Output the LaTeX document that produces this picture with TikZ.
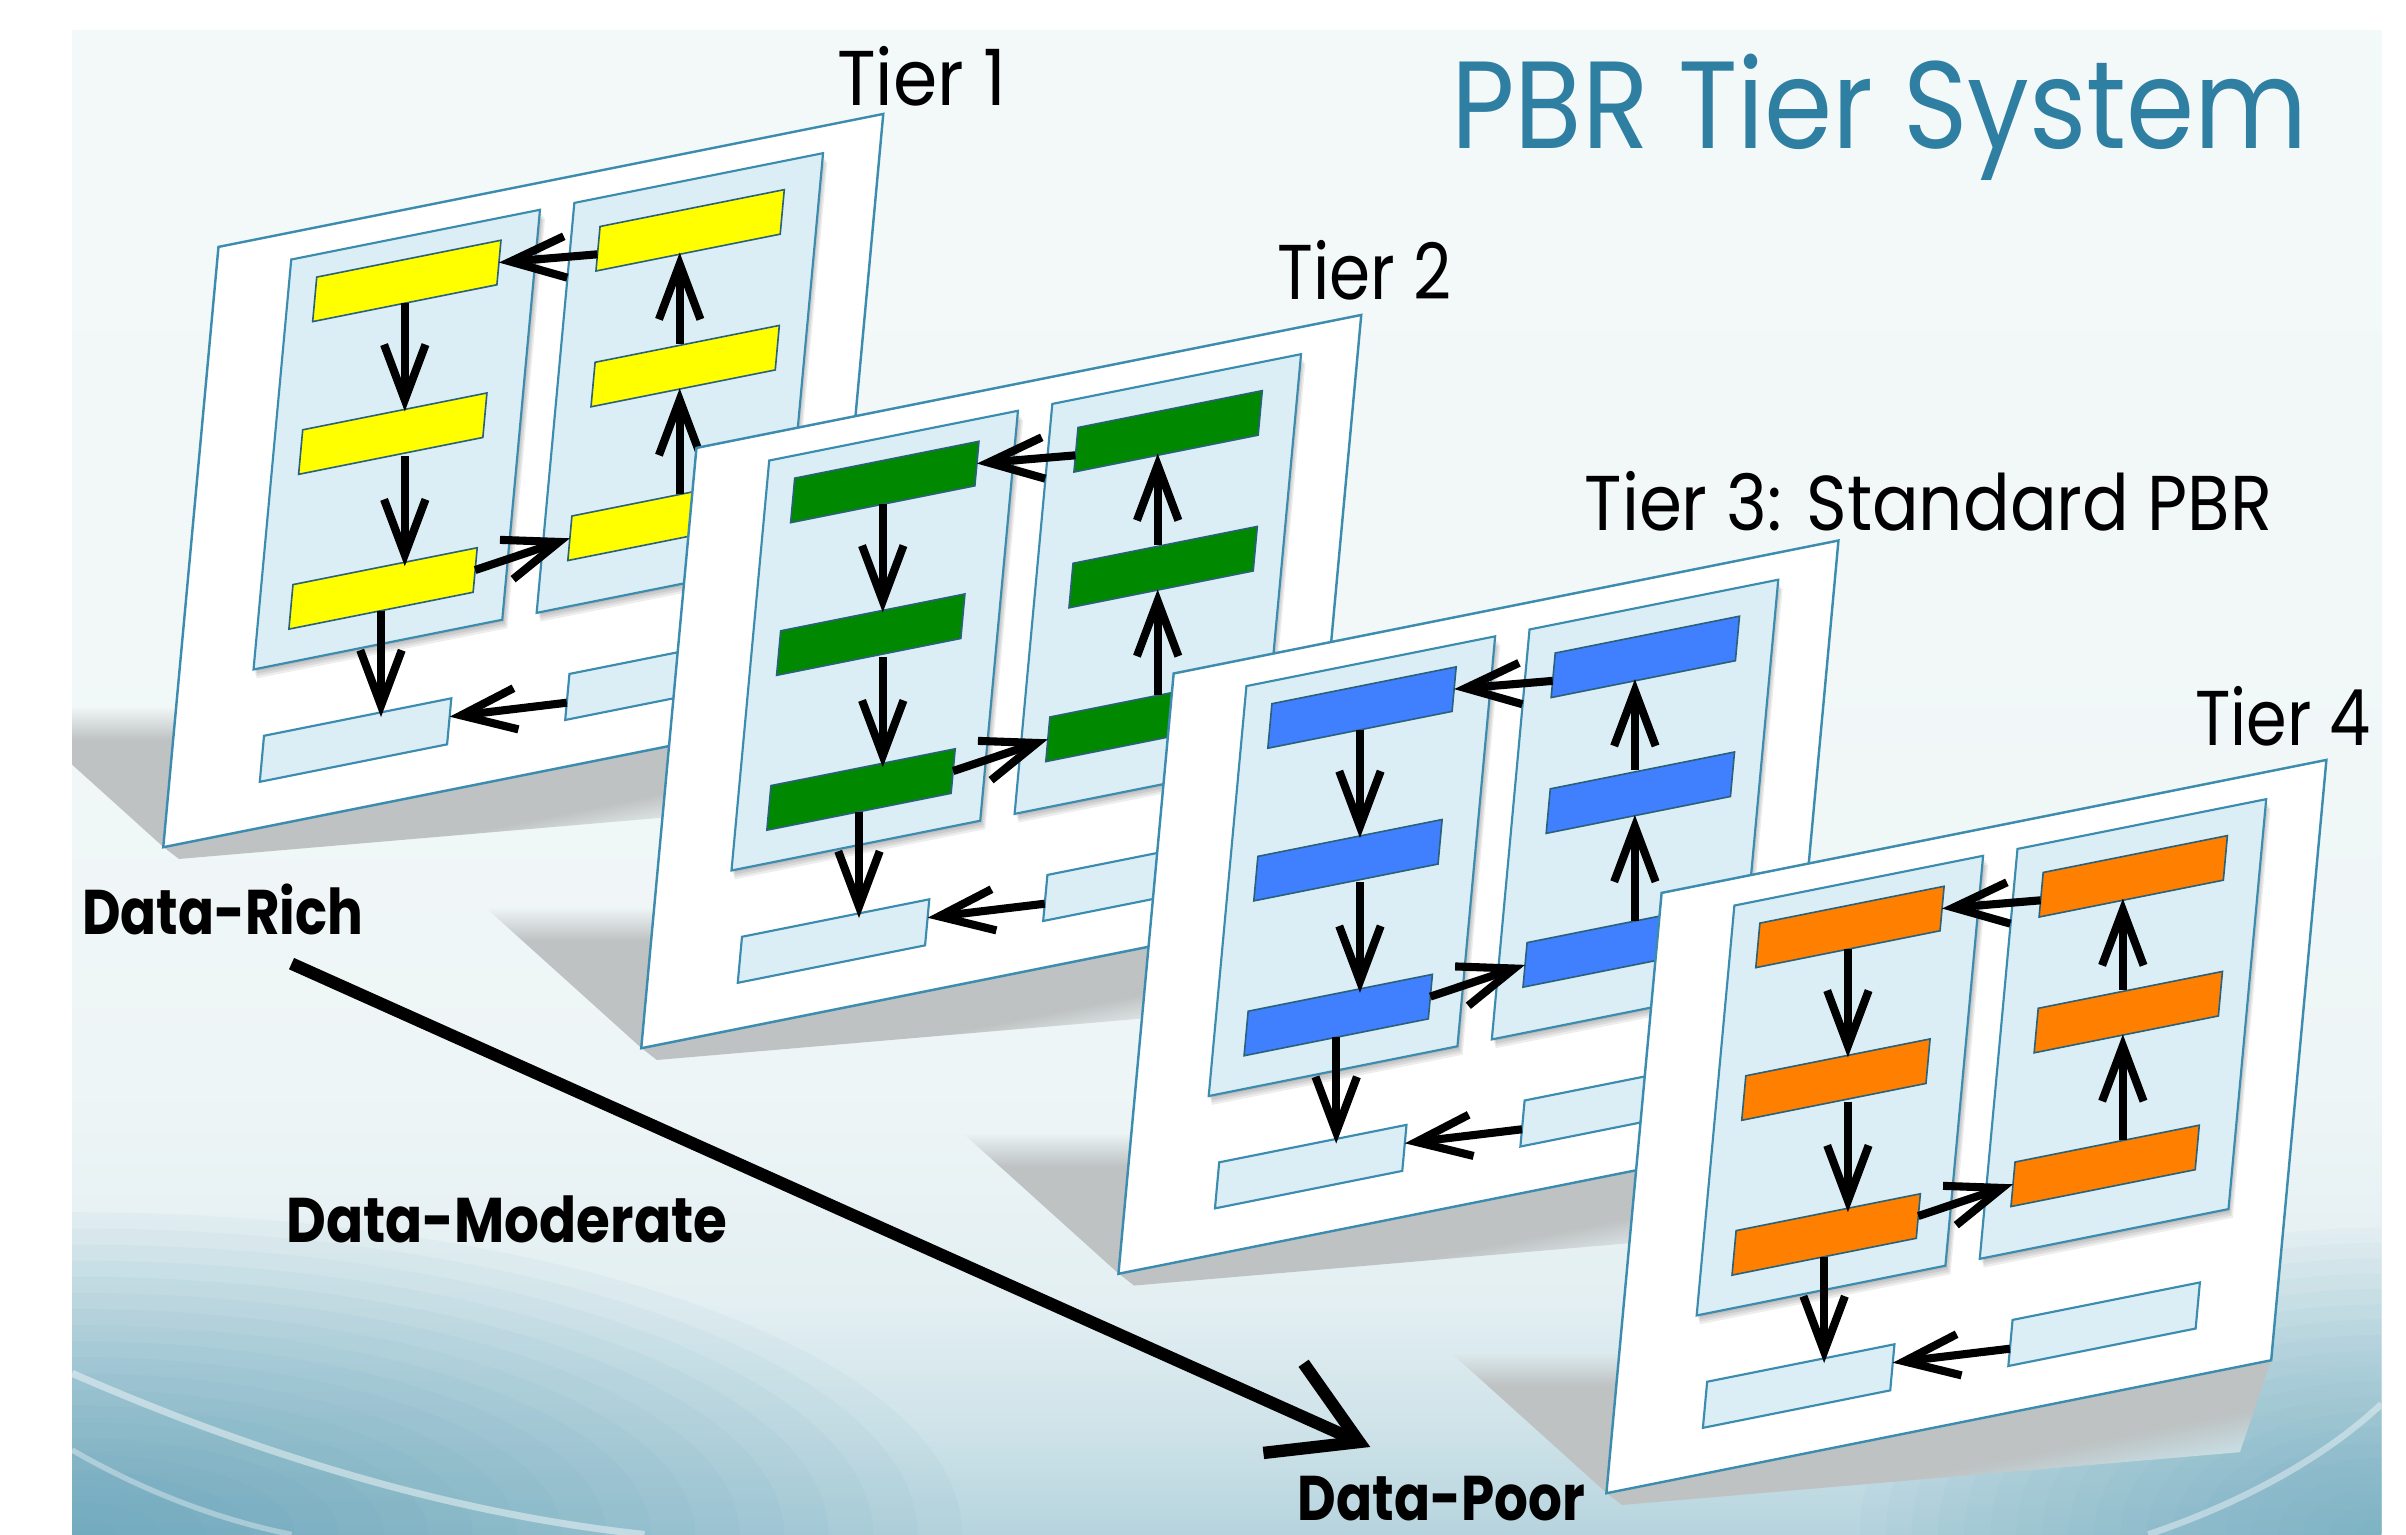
\documentclass[tikz,border=0pt]{standalone}
\usepackage{fontspec}
\setmainfont{Poppins}
\usetikzlibrary{arrows.meta,calc}

\definecolor{edgecol}{HTML}{3C8CAF}
\definecolor{palecol}{HTML}{DCEEF5}
\definecolor{titlecol}{HTML}{2E7FA2}
\definecolor{yellowbar}{HTML}{FFFF00}
\definecolor{greenbar}{HTML}{008800}
\definecolor{bluebar}{HTML}{4080FF}
\definecolor{orangebar}{HTML}{FF7F00}
\definecolor{bg0}{HTML}{B6D4DE}
\definecolor{bg1}{HTML}{CFE3E9}
\definecolor{bg2}{HTML}{E3EFF2}
\definecolor{bg3}{HTML}{EEF5F6}
\definecolor{bg4}{HTML}{F2F8F8}
\definecolor{bg5}{HTML}{F3F8F9}
\definecolor{tintL}{HTML}{589DB5}
\definecolor{tintR}{HTML}{62A5BB}
\definecolor{shgray}{HTML}{BEC2C3}
\definecolor{shlight}{HTML}{F0F6F7}
\definecolor{shA}{HTML}{F2F8F8}
\definecolor{shB}{HTML}{EFF6F7}
\definecolor{shC}{HTML}{ECF4F6}
\definecolor{shD}{HTML}{DCEBEF}
\definecolor{bandA}{HTML}{F0F6F7}
\definecolor{bandB}{HTML}{EEF5F6}
\definecolor{bandC}{HTML}{E6F0F3}
\definecolor{bandD}{HTML}{C8DFE5}
\pgfdeclareverticalshading{bgshade}{100bp}{color(0bp)=(bg0); color(25bp)=(bg0); color(28.6bp)=(bg1); color(32.7bp)=(bg2); color(40bp)=(bg3); color(55bp)=(bg4); color(75bp)=(bg5); color(100bp)=(bg5)}
\pgfdeclareverticalshading[shgray,shlight]{wedgeshade}{100bp}{color(0bp)=(shgray); color(25bp)=(shgray); color(63bp)=(shgray); color(75bp)=(shlight); color(100bp)=(shlight)}
\pgfdeclareverticalshading[shgray,shlight]{bandshade}{100bp}{color(0bp)=(shlight); color(25bp)=(shlight); color(48bp)=(shgray); color(75bp)=(shgray); color(100bp)=(shgray)}

\tikzset{
  panelbox/.style={draw=edgecol, fill=white, line width=0.45pt, minimum width=4.33cm, minimum height=3.91cm, inner sep=0pt, outer sep=0pt},
  colbox/.style={draw=edgecol, fill=palecol, line width=0.4pt, minimum width=1.62cm, minimum height=2.67cm, inner sep=0pt, outer sep=0pt},
  barbox/.style={draw=edgecol!70!black, line width=0.3pt, minimum width=1.2cm, minimum height=0.29cm, inner sep=0pt, outer sep=0pt},
  lowbox/.style={draw=edgecol, fill=palecol, line width=0.4pt, minimum width=1.22cm, minimum height=0.3cm, inner sep=0pt, outer sep=0pt},
  flow/.style={draw=black, line width=1.5pt, -{Straight Barb[length=0.36cm, width=0.27cm]}},
  trend/.style={draw=black, line width=2.3pt, -{Straight Barb[length=0.54cm, width=0.64cm]}},
  tierlabel/.style={anchor=base west, inner sep=0pt, font=\fontsize{14.4}{14.4}\selectfont},
  datalabel/.style={anchor=base west, inner sep=0pt, font=\bfseries\fontsize{11.7}{11.7}\selectfont},
}

% #1,#2 = panel top-left corner; #3 = light colour for the wedge; #4 = light colour for the band
\newcommand{\floorshadow}[4]{%
  \colorlet{shlight}{#3}%
  \shade[shading=wedgeshade] ({#1-36-102},{#2+391-92}) -- ({#1-36},{#2+391}) -- ({#1-6},{#2+385.06})
     -- ({#1-6},{#2+391-92}) -- cycle;
  \colorlet{shlight}{#4}%
  \begin{scope}[transform canvas={cm={1,0.2,0.092,1,(#1,#2)}}]
    \shade[shading=bandshade] (0,391) -- (433,391) -- (418,448) -- (11,401) -- cycle;
  \end{scope}}

\newcommand{\drawtier}[4]{%
  \begin{scope}[cm={1,0.2,0.092,1,(#2,#3)}, every node/.append style={transform shape}]
    \node[panelbox] (#1P) at (216.5,195.5) {};
    \foreach \k in {1,...,4}{
      \fill[black, opacity=0.07] ({49+0.6*\k},{18+1.6*\k}) rectangle ({211+1.0*\k},{285+1.6*\k});
      \fill[black, opacity=0.07] ({234+0.6*\k},{18+1.6*\k}) rectangle ({395+1.0*\k},{285+1.6*\k});
    }
    \node[colbox] (#1LC) at (130,151.5) {};
    \node[colbox] (#1RC) at (314.5,151.5) {};
    \node[barbox, fill=#4] (#1L1) at (127,47.5) {};
    \node[barbox, fill=#4] (#1L2) at (127,147) {};
    \node[barbox, fill=#4] (#1L3) at (130,248.5) {};
    \node[barbox, fill=#4] (#1R1) at (312,51.5) {};
    \node[barbox, fill=#4] (#1R2) at (317,141) {};
    \node[barbox, fill=#4] (#1R3) at (311,240) {};
    \node[lowbox] (#1B1) at (121,345.5) {};
    \node[lowbox] (#1B2) at (320,345) {};
  \end{scope}
  \draw[flow] (#1L1.south) -- (#1L1.south |- #1L2.north);
  \draw[flow] (#1L1.south |- #1L2.south) -- (#1L1.south |- #1L3.north);
  \draw[flow] (#1L3.south) -- (#1L3.south |- #1B1.north);
  \draw[flow] (#1L3.east) -- (#1R3.west);
  \draw[flow] ($(#1R3.north)!0.17!(#1R3.north east)$) coordinate (#1up) -- (#1up |- #1R2.south);
  \draw[flow] (#1up |- #1R2.north) -- (#1up |- #1R1.south);
  \draw[flow] ($(#1R1.west)!0.25!(#1R1.south west)$) -- (#1L1.east);
  \draw[flow] ($(#1B2.west)!0.25!(#1B2.south west)$) -- ($(#1B1.east)!0.2!(#1B1.north east)$);
}

\begin{document}
\begin{tikzpicture}[x=0.01cm, y=-0.01cm]
\useasboundingbox (0,0) rectangle (1568,1000);
\fill[white] (0,0) rectangle (1568,1000);
\shade[shading=bgshade] (47,20) rectangle (1552,1000);
\begin{scope}
  \clip (47,20) rectangle (1552,1000);
  \foreach \k in {1,...,20}{
    \fill[tintL, opacity=0.05] (47,1000) ellipse [x radius={580*\k/20}, y radius={210*\k/20}];
    \fill[tintR, opacity=0.043] (1552,1000) ellipse [x radius={340*\k/20}, y radius={200*\k/20}];
  }
  \draw[white, opacity=0.45, line width=1.3pt] (47,895) .. controls (150,940) and (280,985) .. (420,1000);
  \draw[white, opacity=0.35, line width=1pt] (47,945) .. controls (90,970) and (140,990) .. (190,1000);
  \draw[white, opacity=0.4, line width=1.2pt] (1400,1000) .. controls (1460,980) and (1515,950) .. (1552,915);
  \floorshadow{142.5}{161}{shA}{bandA}
  \floorshadow{454}{292}{shB}{bandB}
  \floorshadow{765}{439}{shC}{bandC}
  \floorshadow{1083}{582}{shD}{bandD}
\end{scope}

\drawtier{t1}{142.5}{161}{yellowbar}
\drawtier{t2}{454}{292}{greenbar}
\drawtier{t3}{765}{439}{bluebar}
\drawtier{t4}{1083}{582}{orangebar}

\node[anchor=base west, inner sep=0pt, text=titlecol, font=\fontsize{23}{23}\selectfont] (title) at (945,97) {\resizebox{5.58cm}{\height}{PBR Tier System}};
\node[tierlabel] (lab1) at (545,69) {\resizebox{1.10cm}{\height}{Tier 1}};
\node[tierlabel] (lab2) at (832,195) {\resizebox{1.13cm}{\height}{Tier 2}};
\node[tierlabel] (lab3) at (1032,346) {\resizebox{4.48cm}{\height}{Tier 3: Standard PBR}};
\node[tierlabel] (lab4) at (1430,486) {\resizebox{1.14cm}{\height}{Tier 4}};
\node[datalabel] (rich) at (53,609) {\resizebox{1.83cm}{\height}{Data-Rich}};
\node[datalabel] (moderate) at (186,810) {\resizebox{2.87cm}{\height}{Data-Moderate}};
\node[datalabel] (poor) at (845,991) {\resizebox{1.87cm}{\height}{Data-Poor}};

\coordinate (trendstart) at (190,628);
\coordinate (trendend) at (893,943);
\draw[trend] (trendstart) -- (trendend);
\end{tikzpicture}
\end{document}
